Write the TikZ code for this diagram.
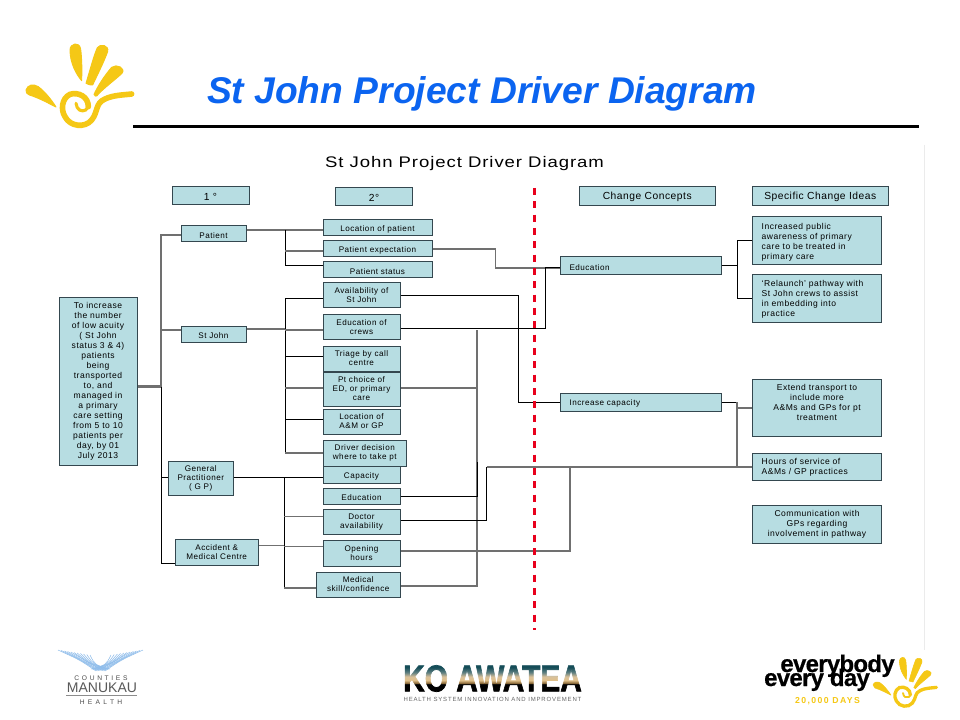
\documentclass[tikz,border=0pt]{standalone}
\usepackage{fontspec}
\setmainfont{Liberation Sans}
\newfontfamily\boxfont[LetterSpace=6]{Liberation Sans}
\newfontfamily\headfont[LetterSpace=5]{Liberation Sans}
\newfontfamily\tightbold[LetterSpace=-3,BoldFont={* Bold},BoldFeatures={FakeBold=0.6}]{Liberation Sans}
\newfontfamily\wideboldfont[LetterSpace=16]{Liberation Sans}
\newfontfamily\kofont[BoldFont={* Bold},BoldFeatures={FakeBold=2}]{Liberation Sans}
\definecolor{boxfill}{HTML}{B7DDE2}
\definecolor{boxline}{HTML}{34474F}
\definecolor{conngray}{HTML}{707070}
\definecolor{sunyellow}{HTML}{F5C816}
\definecolor{titleblue}{HTML}{0B64F0}
\definecolor{dashred}{HTML}{E8001C}
\definecolor{fanblue}{HTML}{8FBDEB}
\definecolor{kotop}{HTML}{154D58}
\definecolor{komid}{HTML}{5F7F80}
\definecolor{kotan}{HTML}{E0C08A}
\definecolor{kosand}{HTML}{D8C09A}
\definecolor{kobrown}{HTML}{8A6A3A}
\pgfdeclareverticalshading{koshade}{100bp}{color(0bp)=(black); color(25bp)=(black); color(39bp)=(black); color(41bp)=(kobrown); color(46bp)=(kotan); color(52.5bp)=(kosand); color(60bp)=(komid); color(69bp)=(kotop); color(75bp)=(kotop); color(100bp)=(kotop)}
\tikzset{
  box/.style={draw=boxline,fill=boxfill,line width=0.75pt,inner sep=0pt,align=center,font=\boxfont\fontsize{6.1}{6.75}\selectfont,text=black,execute at begin node={\rule{0pt}{6.5pt}}},
  widetext/.style={font=\boxfont\fontsize{6.4}{7.5}\selectfont},
  lowtext/.style={execute at begin node={\rule{0pt}{9pt}}},
  headbox/.style={font=\headfont\fontsize{7.7}{8}\selectfont},
  blk/.style={draw=black,line width=0.65pt},
  gry/.style={draw=conngray,line width=1pt},
  heavy/.style={draw=conngray,line width=2.2pt},
  sunray/.style={fill=sunyellow,draw=sunyellow,line width=0.7pt,line join=round},
}
\newcommand\bx[6][]{%
  \pgfmathsetmacro\cxx{(#3+#5)/2}\pgfmathsetmacro\cyy{(#4+#6)/2}%
  \pgfmathsetmacro\wdd{(#5-#3)*0.75}\pgfmathsetmacro\htt{(#6-#4)*0.75}%
  \node[box,minimum width=\wdd pt,minimum height=\htt pt,#1] (#2) at (\cxx,\cyy)}
\newcommand\sunlogo[5]{%
  \begin{scope}[shift={(#1,#2)},x=#3pt,y=#3pt,yscale=-1]
    \filldraw[sunray,line width=#5pt] (18,165) .. controls (22,150) and (40,145) .. (55,155) .. controls (75,170) and (95,195) .. (108,216) .. controls (85,205) and (60,190) .. (28,180) .. controls (20,176) .. cycle;
    \filldraw[sunray,line width=#5pt] (150,45) .. controls (150,25) and (178,18) .. (182,42) .. controls (186,75) and (186,105) .. (185,137) .. controls (170,120) and (150,85) .. cycle;
    \filldraw[sunray,line width=#5pt] (198,145) .. controls (210,105) and (222,60) .. (232,38) .. controls (240,25) and (268,30) .. (263,50) .. controls (250,85) and (232,120) .. (218,150) .. controls (210,150) .. cycle;
    \filldraw[sunray,line width=#5pt] (222,178) .. controls (235,150) and (255,120) .. (275,97) .. controls (290,85) and (318,100) .. (306,115) .. controls (285,135) and (250,160) .. (230,183) .. controls (226,184) .. cycle;
    \draw[sunyellow,line width=#4pt,line cap=round] (205,215) .. controls (205,185) and (175,170) .. (150,178) .. controls (125,190) and (122,225) .. (135,245) .. controls (150,275) and (195,280) .. (215,255) .. controls (235,230) and (225,205) .. (255,192) .. controls (280,180) and (310,180) .. (335,177);
    \draw[sunyellow,line width=0.55*#4pt,line cap=round] (168,205) .. controls (170,225) and (185,232) .. (197,225) .. controls (203,222) .. (205,215);
  \end{scope}}
\begin{document}
\begin{tikzpicture}[x=0.75pt,y=-0.75pt]
\path[use as bounding box,fill=white] (0,0) rectangle (960,720);

% header
\node[font=\bfseries\itshape\fontsize{27.9}{30}\selectfont,text=titleblue] (maintitle) at (482,94) {St John Project Driver Diagram};
\fill[black] (133,125) rectangle (919,128);
\sunlogo{20}{35}{0.25}{4.2}{0.7}
\draw[black!8,line width=0.6pt] (924.5,145) -- (924.5,650);
\node[font=\headfont\fontsize{11.5}{13}\selectfont,text=black,xscale=1.21,transform shape] (subtitle) at (464.5,164) {St John Project Driver Diagram};

% junctions
\coordinate (gbus) at (161,386.5);
\coordinate (pbus) at (285,230);
\coordinate (sbus) at (285,329);
\coordinate (gpbus) at (284,477);
\coordinate (rbus) at (477,330);
\coordinate (edbus) at (545,267);
\coordinate (capbus) at (518,402);
\coordinate (hrbus) at (570,467);
\coordinate (idea1) at (737,265.5);
\coordinate (idea2) at (737,402);

% boxes
\bx[widetext,lowtext]{goal}{59}{298}{137}{465}{To increase\\the number\\of low acuity\\( St John\\status 3 \& 4)\\patients\\being\\transported\\to, and\\managed in\\a primary\\care setting\\from 5 to 10\\patients per\\day, by 01\\July 2013};
\bx[headbox]{prim}{172}{187}{249}{205}{1 °};
\bx{patient}{181}{226}{246}{242}{Patient};
\bx{stjohn}{181}{326}{246}{342}{St John};
\bx{gp}{168.5}{461}{233}{495.5}{General\\Practitioner\\( G P)};
\bx{am}{175}{539.5}{258.5}{565}{Accident \&\\Medical Centre};
\bx[headbox]{sec}{335.5}{188}{412.5}{206}{2°};
\bx{loc}{323}{219.5}{432}{236}{Location of patient};
\bx{pexp}{323}{240.5}{432}{257}{Patient expectation};
\bx{pstat}{323}{261.5}{432}{278}{Patient status};
\bx{avail}{323}{282.5}{400}{308}{Availability of\\St John};
\bx{edcrew}{323}{314.5}{400}{339.5}{Education of\\crews};
\bx{triage}{323}{346}{400}{371}{Triage by call\\centre};
\bx{ptchoice}{323}{372}{400}{406}{Pt choice of\\ED, or primary\\care};
\bx{locam}{323}{409}{400}{434}{Location of\\A\&M or GP};
\bx{capac}{323}{466.5}{400}{483}{Capacity};
\bx{driver}{323}{440.5}{406.5}{466}{Driver decision\\where to take pt};
\bx{educ}{323}{488}{400}{504}{Education};
\bx{doctor}{323}{509}{400}{534.5}{Doctor\\availability};
\bx{opening}{323}{540.5}{400}{566}{Opening\\hours};
\bx{medical}{316.5}{572}{400}{597}{Medical\\skill/confidence};
\bx[headbox]{cc}{579.5}{187}{715}{205.5}{Change Concepts};
\bx[headbox]{sci}{752.5}{187}{888}{205.5}{Specific Change Ideas};
\bx[align=left,text width=106.5pt]{education}{560}{257}{721}{274.5}{Education};
\bx[align=left,text width=106.5pt]{capacity}{560}{393.5}{721}{411}{Increase capacity};
\bx[widetext,align=left,text width=83pt]{ideaA}{752.5}{217}{881.5}{264.5}{Increased public\\awareness of primary\\care to be treated in\\primary care};
\bx[widetext,align=left,text width=83pt]{ideaB}{752.5}{274.5}{881.5}{322}{‘Relaunch’ pathway with\\St John crews to assist\\in embedding into\\practice};
\bx[widetext]{ideaC}{752.5}{379}{881.5}{436}{Extend transport to\\include more\\A\&Ms and GPs for pt\\treatment\\\mbox{}};
\bx[widetext,align=left,text width=83pt]{ideaD}{752.5}{453}{881.5}{480}{Hours of service of\\A\&Ms / GP practices};
\bx[widetext]{ideaE}{752.5}{505.5}{881.5}{543}{Communication with\\GPs regarding\\involvement in pathway};

% connectors
\draw[heavy] (goal.east |- gbus) -- (gbus);
\draw[gry] (gbus) -- (gbus |- 0,235) -- (patient.west |- 0,235);
\draw[blk] (gbus) -- (gbus |- 0,563.5) -- (am.west |- 0,563.5);
\draw[gry] (gbus |- 0,330) -- (stjohn.west |- 0,330);
\draw[blk] (gbus |- 0,477) -- (gp.west |- 0,477);

\draw[gry] (patient.east |- pbus) -- (loc.west |- pbus);
\draw[blk] (pbus) -- (pbus |- 0,265.5) -- (pstat.west |- 0,265.5);
\draw[gry] (pbus |- 0,251) -- (pexp.west |- 0,251);

\draw[gry] (stjohn.east |- sbus) -- (sbus);
\draw[blk] (avail.west |- 0,298) -- (sbus |- 0,298) -- (sbus |- 0,453);
\draw[gry] (sbus |- 0,330) -- (edcrew.west |- 0,330);
\draw[blk] (sbus |- 0,356) -- (triage.west |- 0,356);
\draw[gry] (sbus |- 0,388) -- (ptchoice.west |- 0,388);
\draw[blk] (sbus |- 0,419) -- (locam.west |- 0,419);
\draw[gry] (sbus |- 0,453) -- (driver.west |- 0,453);

\draw[blk] (gp.east |- gpbus) -- (capac.west |- gpbus);
\draw[blk] (gpbus) -- (gpbus |- 0,588);
\draw[gry] (gpbus |- 0,516.5) -- (doctor.west |- 0,516.5);
\draw[gry] (am.east |- 0,545.5) -- (gpbus |- 0,545.5);
\draw[gry] (gpbus |- 0,546.7) -- (opening.west |- 0,546.7);
\draw[gry] (gpbus |- 0,588) -- (medical.west |- 0,588);

\draw[gry] (pexp.east |- 0,249) -- (495.5,249) -- (495.5,268) -- (edbus |- 0,268) -- (education.west |- 0,268);
\draw[blk] (edcrew.east |- 0,328) -- (edbus |- 0,328) -- (edbus) -- (education.west |- edbus);
\draw[blk] (avail.east |- 0,295) -- (capbus |- 0,295) -- (capbus) -- (capacity.west |- capbus);
\draw[gry] (rbus |- 0,330) -- (rbus |- 0,586) -- (medical.east |- 0,586);
\draw[gry] (ptchoice.east |- 0,388) -- (rbus |- 0,388);
\draw[blk] (educ.east |- 0,496) -- (rbus |- 0,496) -- (rbus |- 0,462);
\draw[blk] (doctor.east |- 0,520.5) -- (486.5,520.5) -- (486.5,467);
\draw[gry] (486.5,467) -- (ideaD.west |- hrbus);
\draw[gry] (opening.east |- 0,551) -- (hrbus |- 0,551) -- (hrbus);

\draw[blk] (education.east |- idea1) -- (idea1);
\draw[blk] (ideaA.west |- 0,240.5) -- (idea1 |- 0,240.5) -- (idea1 |- 0,298.5) -- (ideaB.west |- 0,298.5);
\draw[blk] (capacity.east |- idea2) -- (idea2);
\draw[gry] (idea2) -- (idea2 |- hrbus);
\draw[gry] (idea2 |- 0,408) -- (ideaC.west |- 0,408);

% red dashed boundary
\draw[dashred,line width=2pt,dash pattern=on 5.3pt off 4.7pt] (534.5,188) coordinate (ra) -- (534.5,630) coordinate (rb);

% Counties Manukau logo
\foreach \i in {0,...,10} {
  \draw[fanblue,line width=0.4pt] ({58+\i*3.2},{650+\i*0.5}) .. controls ({80+\i*1.5},{660+\i*0.5}) .. ({96+\i*1.4},{671-\i*0.2});
  \draw[fanblue,line width=0.4pt] ({143-\i*3.2},{650+\i*0.5}) .. controls ({121-\i*1.5},{660+\i*0.5}) .. ({105-\i*1.4},{671-\i*0.2});
}
\node[font={\wideboldfont\addfontfeature{LetterSpace=40}\fontsize{5}{6}\selectfont},text=black!70,inner sep=0pt] (counties) at (101,678) {COUNTIES};
\node[font=\fontsize{10.5}{12}\selectfont,text=black!65,inner sep=0pt] (manukau) at (102,687.5) {MANUKAU};
\draw[black!45,line width=0.4pt] (66,695) -- (137,695);
\node[font={\wideboldfont\addfontfeature{LetterSpace=50}\fontsize{5}{6}\selectfont},text=black!70,inner sep=0pt] (health) at (101,702) {HEALTH};

% Ko Awatea logo
\node[font=\kofont\bfseries\fontsize{28}{30}\selectfont,xscale=0.8,transform shape,text=black,inner sep=0pt] (koawatea) at (492.5,678.5) {KO AWATEA};
\path[shading=koshade,blend mode=screen] (402,664) rectangle (584,692);
\node[font={\wideboldfont\addfontfeature{LetterSpace=14}\fontsize{4.5}{5}\selectfont},text=black!60,inner sep=0pt] (kosub) at (492.5,699) {HEALTH SYSTEM INNOVATION AND IMPROVEMENT};

% everybody every day logo
\node[font=\tightbold\bfseries\fontsize{18}{20}\selectfont,text=black,anchor=base] (everybody) at (837.5,672) {everybody};
\node[font=\tightbold\bfseries\fontsize{18}{20}\selectfont,text=black,anchor=base] (everyday) at (817,686) {every day};
\node[font=\wideboldfont\bfseries\fontsize{6.5}{7}\selectfont,text=sunyellow] (days) at (827.5,701) {20,000 DAYS};
\sunlogo{869.4}{652}{0.15}{2.5}{0.4}
\end{tikzpicture}
\end{document}
